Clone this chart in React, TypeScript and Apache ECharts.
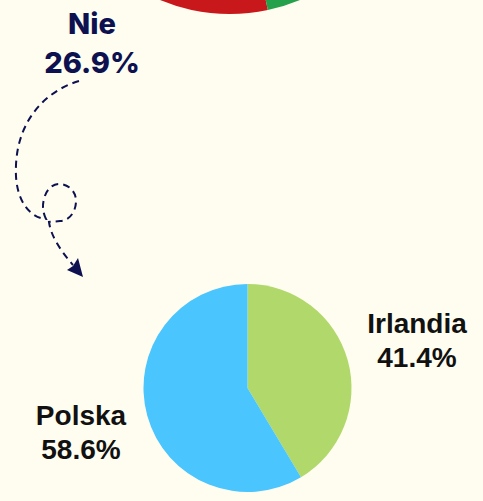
import React, { useEffect, useRef } from "react";
import * as echarts from "echarts";

const topNames = ["Nie", "Tak"];
const topValues = [26.9, 73.1];
const topColors = ["#c8181b", "#24a14a"];

const countryNames = ["Irlandia", "Polska"];
const countryValues = [41.4, 58.6];
const countryColors = ["#b0d86a", "#4ac5fd"];

const calloutLines = ["Nie", "26.9%"];

const ARROW_D =
  "M79,81 C48,90 18,118 16,165 C14,200 30,218 46,219 C43,213 42,206 44,199 C46,190 52,184 59,184 C68,184 76,191 76,201 C76,212 69,221 60,221 L49,222 C51,236 60,250 73,265";

export default function App() {
  const ref = useRef<HTMLDivElement>(null);
  useEffect(() => {
    if (!ref.current) return;
    echarts.graphic.registerShape("arrowPath", echarts.graphic.extendPath(ARROW_D, {}));
    const chart = echarts.init(ref.current, null, { renderer: "svg" });
    const navy = "#0d1150";
    const calloutFont = "800 29px Inter, 'Noto Sans', sans-serif";
    chart.setOption({
      animation: false,
      backgroundColor: "#fffdf0",
      series: [
        {
          type: "pie",
          center: [230, -168],
          radius: 182,
          startAngle: -78,
          clockwise: true,
          silent: true,
          label: { show: false },
          labelLine: { show: false },
          itemStyle: { borderWidth: 0 },
          data: topNames.map((n, i) => ({
            name: n,
            value: topValues[i],
            itemStyle: { color: topColors[i] },
          })),
        },
        {
          type: "pie",
          center: [247.5, 388],
          radius: 104,
          startAngle: 90,
          clockwise: true,
          silent: true,
          itemStyle: { borderWidth: 0 },
          label: {
            show: true,
            position: "outside",
            formatter: "{b}\n{c}%",
            fontFamily: "Liberation Sans, Arial, sans-serif",
            fontWeight: "bold",
            fontSize: 28,
            lineHeight: 34,
            color: "#111111",
            align: "center",
            overflow: "none",
            width: 200,
          },
          labelLine: { show: false },
          labelLayout: (p: any) =>
            p.dataIndex === 0
              ? { x: 417, y: 340, align: "center", verticalAlign: "middle" }
              : { x: 81, y: 432, align: "center", verticalAlign: "middle" },
          data: countryNames.map((n, i) => ({
            name: n,
            value: countryValues[i],
            itemStyle: { color: countryColors[i] },
          })),
        },
      ],
      graphic: [
        {
          type: "text",
          x: 92,
          y: 23,
          style: {
            text: calloutLines[0],
            fill: navy,
            font: calloutFont,
            align: "center",
            verticalAlign: "middle",
          },
        },
        {
          type: "text",
          x: 92,
          y: 62,
          style: {
            text: calloutLines[1],
            fill: navy,
            font: calloutFont,
            align: "center",
            verticalAlign: "middle",
          },
        },
        {
          type: "arrowPath",
          x: 0,
          y: 0,
          style: {
            fill: null,
            stroke: navy,
            lineWidth: 2,
            lineDash: [7, 5],
          },
        },
        {
          type: "polygon",
          shape: {
            points: [
              [83, 277],
              [67, 270],
              [73, 266],
              [78, 258],
            ],
          },
          style: { fill: navy },
        },
      ],
    });
    return () => chart.dispose();
  }, []);
  return (
    <div
      ref={ref}
      style={{ position: "absolute", left: 0, top: 0, width: 483, height: 501 }}
    />
  );
}
